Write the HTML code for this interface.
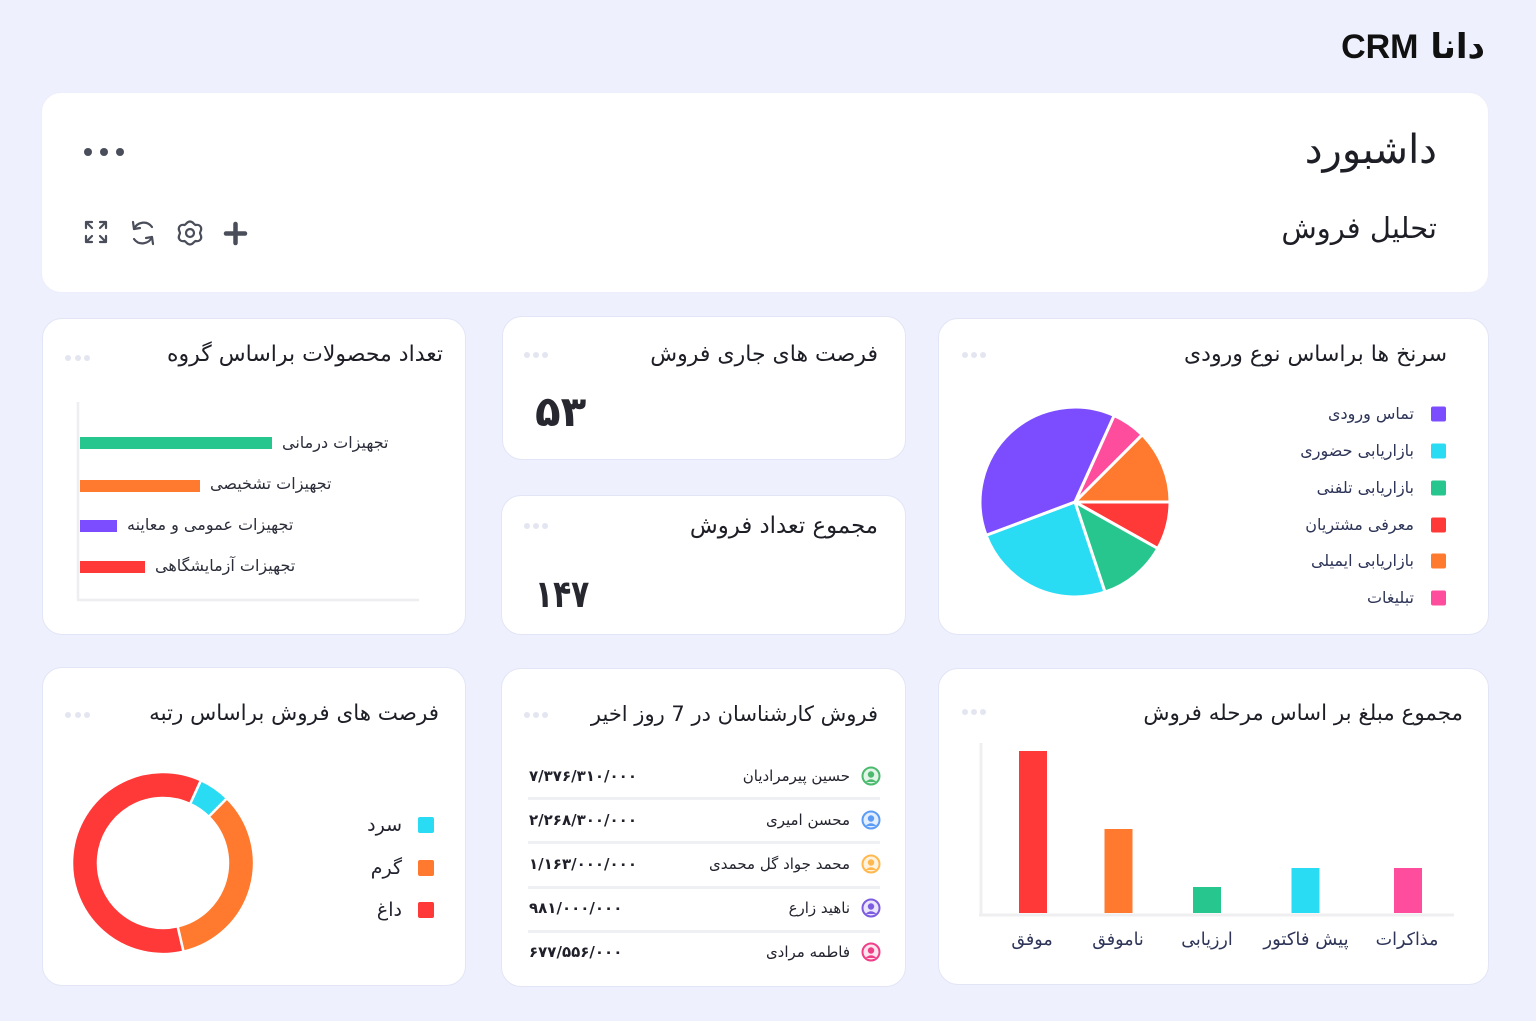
<!DOCTYPE html>
<html lang="fa">
<head>
<meta charset="utf-8">
<style>
html,body{margin:0;padding:0;}
body{width:1536px;height:1021px;background:#eef0fd;overflow:hidden;position:relative;font-family:"DejaVu Sans",sans-serif;}
.card{position:absolute;background:#fff;border:1.5px solid #e2e5f6;border-radius:20px;box-sizing:border-box;}
.t{position:absolute;white-space:nowrap;direction:rtl;font-family:"DejaVu Sans",sans-serif;color:#1d1e26;}
.ttl{font-size:22px;line-height:30px;height:30px;}
.lbl{font-size:16px;line-height:20px;height:20px;color:#2b2d3a;}
.lg{font-size:16px;line-height:22px;height:22px;color:#2e3558;}
.nm{font-size:15px;line-height:20px;height:20px;color:#22232e;}
.num{position:absolute;white-space:nowrap;direction:ltr;font-family:"DejaVu Sans",sans-serif;font-weight:bold;font-size:15px;line-height:20px;height:20px;color:#1f2029;letter-spacing:1.5px;}
.xl{position:absolute;width:160px;text-align:center;direction:rtl;white-space:nowrap;font-family:"DejaVu Sans",sans-serif;font-size:17.5px;line-height:22px;color:#2e3558;}
svg.ov{position:absolute;left:0;top:0;}
</style>
</head>
<body>

<!-- Logo -->
<div class="t" style="right:51px;top:27px;font-size:34px;line-height:40px;font-weight:bold;color:#111;"><span>دانا</span> <span style="font-family:'Liberation Sans',sans-serif;">CRM</span></div>

<!-- Header card -->
<div class="card" style="left:41px;top:92px;width:1448px;height:201px;border-color:#eceefb;"></div>
<div class="t" style="right:99px;top:128px;font-size:40px;line-height:44px;">داشبورد</div>
<div class="t" style="right:99px;top:210px;font-size:29px;line-height:36px;">تحلیل فروش</div>

<!-- Cards -->
<div class="card" style="left:42px;top:318px;width:424px;height:317px;"></div>
<div class="card" style="left:502px;top:316px;width:404px;height:144px;"></div>
<div class="card" style="left:501px;top:495px;width:405px;height:140px;"></div>
<div class="card" style="left:938px;top:318px;width:551px;height:317px;"></div>
<div class="card" style="left:42px;top:667px;width:424px;height:319px;"></div>
<div class="card" style="left:501px;top:668px;width:405px;height:319px;"></div>
<div class="card" style="left:938px;top:668px;width:551px;height:317px;"></div>

<!-- Titles -->
<div class="t ttl" style="right:1093px;top:340px;">تعداد محصولات براساس گروه</div>
<div class="t ttl" style="right:658px;top:340px;">فرصت های جاری فروش</div>
<div class="t ttl" style="right:658px;top:511px;font-size:22.8px;">مجموع تعداد فروش</div>
<div class="t ttl" style="right:89px;top:340px;">سرنخ ها براساس نوع ورودی</div>
<div class="t ttl" style="right:1097px;top:699px;font-size:21.4px;">فرصت های فروش براساس رتبه</div>
<div class="t ttl" style="right:658px;top:699px;font-size:21px;">فروش کارشناسان در 7 روز اخیر</div>
<div class="t ttl" style="right:73px;top:699px;font-size:21.4px;">مجموع مبلغ بر اساس مرحله فروش</div>

<!-- Big numbers -->
<div class="t" style="left:535px;top:390px;font-size:42px;line-height:44px;font-weight:bold;color:#26272f;letter-spacing:2px;">۵۳</div>
<div class="t" style="left:535px;top:572px;font-size:38px;line-height:44px;font-weight:bold;color:#26272f;letter-spacing:-3px;transform:scaleX(0.78);transform-origin:left center;">۱۴۷</div>

<!-- Card A bar labels -->
<div class="t lbl" style="left:282px;top:433px;">تجهیزات درمانی</div>
<div class="t lbl" style="left:210px;top:474px;">تجهیزات تشخیصی</div>
<div class="t lbl" style="left:127px;top:515px;">تجهیزات عمومی و معاینه</div>
<div class="t lbl" style="left:155px;top:556px;">تجهیزات آزمایشگاهی</div>

<!-- Card D legend -->
<div class="t lg" style="right:122px;top:403px;">تماس ورودی</div>
<div class="t lg" style="right:122px;top:440px;">بازاریابی حضوری</div>
<div class="t lg" style="right:122px;top:477px;">بازاریابی تلفنی</div>
<div class="t lg" style="right:122px;top:514px;">معرفی مشتریان</div>
<div class="t lg" style="right:122px;top:550px;">بازاریابی ایمیلی</div>
<div class="t lg" style="right:122px;top:587px;">تبلیغات</div>

<!-- Card E legend -->
<div class="t" style="right:1134px;top:812px;font-size:19px;line-height:26px;color:#22232e;">سرد</div>
<div class="t" style="right:1134px;top:855px;font-size:19px;line-height:26px;color:#22232e;">گرم</div>
<div class="t" style="right:1134px;top:897px;font-size:19px;line-height:26px;color:#22232e;">داغ</div>

<!-- Card F rows -->
<div class="t nm" style="right:686px;top:766px;">حسین پیرمرادیان</div>
<div class="t nm" style="right:686px;top:810px;">محسن امیری</div>
<div class="t nm" style="right:686px;top:854px;">محمد جواد گل محمدی</div>
<div class="t nm" style="right:686px;top:898px;">ناهید زارع</div>
<div class="t nm" style="right:686px;top:942px;">فاطمه مرادی</div>
<div class="num" style="left:529px;top:766px;">۷/۳۷۶/۳۱۰/۰۰۰</div>
<div class="num" style="left:529px;top:810px;">۲/۲۶۸/۳۰۰/۰۰۰</div>
<div class="num" style="left:529px;top:854px;">۱/۱۶۳/۰۰۰/۰۰۰</div>
<div class="num" style="left:529px;top:898px;">۹۸۱/۰۰۰/۰۰۰</div>
<div class="num" style="left:529px;top:942px;">۶۷۷/۵۵۶/۰۰۰</div>

<!-- Card G x labels -->
<div class="xl" style="left:952px;top:929px;">موفق</div>
<div class="xl" style="left:1038px;top:929px;">ناموفق</div>
<div class="xl" style="left:1127px;top:929px;">ارزیابی</div>
<div class="xl" style="left:1226px;top:929px;font-size:18px;">پیش فاکتور</div>
<div class="xl" style="left:1327px;top:929px;">مذاکرات</div>

<svg class="ov" width="1536" height="1021" viewBox="0 0 1536 1021" xmlns="http://www.w3.org/2000/svg">
  <!-- header dots -->
  <g fill="#4a4e5a">
    <circle cx="88" cy="152" r="4"/><circle cx="104" cy="152" r="4"/><circle cx="120" cy="152" r="4"/>
  </g>
  <!-- header icons -->
  <g stroke="#4a4e5a" stroke-width="2.2" fill="none" stroke-linecap="round" stroke-linejoin="round">
    <!-- expand -->
    <path d="M86 228 V222 H92 M86 222 L92 228"/>
    <path d="M100 222 H106 V228 M106 222 L100 228"/>
    <path d="M86 236 V242 H92 M86 242 L92 236"/>
    <path d="M106 236 V242 H100 M106 242 L100 236"/>
    <!-- refresh -->
    <path d="M134 229 C137 222 147 220 152 227"/>
    <path d="M133 222 L134 229 L140 228"/>
    <path d="M152 237 C149 244 139 246 134 239"/>
    <path d="M153 244 L152 237 L146 238"/>
    <!-- gear -->
    <path d="M190 221.5 C193 221.5 193.5 224 195.5 225 C197.5 224.5 200 225 201 227.5 C202 230 200 231.5 200 233 C200 234.5 202 236 201 238.5 C200 241 197.5 241.5 195.5 241 C193.5 242 193 244.5 190 244.5 C187 244.5 186.5 242 184.5 241 C182.5 241.5 180 241 179 238.5 C178 236 180 234.5 180 233 C180 231.5 178 230 179 227.5 C180 225 182.5 224.5 184.5 225 C186.5 224 187 221.5 190 221.5 Z"/>
    <circle cx="190" cy="233" r="4"/>
  </g>
  <!-- plus -->
  <g stroke="#4a4e5a" stroke-width="4.5" stroke-linecap="round">
    <line x1="235.5" y1="224" x2="235.5" y2="243"/>
    <line x1="226" y1="233.5" x2="245" y2="233.5"/>
  </g>

  <!-- card dots (light) -->
  <g fill="#e3e5f0">
    <circle cx="68" cy="358" r="3"/><circle cx="78" cy="358" r="3"/><circle cx="87" cy="358" r="3"/>
    <circle cx="527" cy="355" r="3"/><circle cx="536" cy="355" r="3"/><circle cx="545" cy="355" r="3"/>
    <circle cx="527" cy="526" r="3"/><circle cx="536" cy="526" r="3"/><circle cx="545" cy="526" r="3"/>
    <circle cx="965" cy="355" r="3"/><circle cx="974" cy="355" r="3"/><circle cx="983" cy="355" r="3"/>
    <circle cx="68" cy="715" r="3"/><circle cx="78" cy="715" r="3"/><circle cx="87" cy="715" r="3"/>
    <circle cx="527" cy="715" r="3"/><circle cx="536" cy="715" r="3"/><circle cx="545" cy="715" r="3"/>
    <circle cx="965" cy="712" r="3"/><circle cx="974" cy="712" r="3"/><circle cx="983" cy="712" r="3"/>
  </g>

  <!-- Card A horizontal bars -->
  <g stroke="#eeeef1" stroke-width="2.5">
    <line x1="78" y1="402" x2="78" y2="600"/>
    <line x1="77" y1="600" x2="419" y2="600"/>
  </g>
  <rect x="80" y="437" width="192" height="12" fill="#27c68f"/>
  <rect x="80" y="480" width="120" height="12" fill="#ff7a2e"/>
  <rect x="80" y="520" width="37" height="12" fill="#7c4dff"/>
  <rect x="80" y="561" width="65" height="12" fill="#ff3838"/>

  <!-- Card D pie -->
  <g stroke="#fff" stroke-width="3" stroke-linejoin="round">
    <path d="M1075 502 L986.1 535.4 A95 95 0 0 1 1114.2 415.5 Z" fill="#7c4dff"/>
    <path d="M1075 502 L1114.2 415.5 A95 95 0 0 1 1142.2 434.8 Z" fill="#ff4d9e"/>
    <path d="M1075 502 L1142.2 434.8 A95 95 0 0 1 1170 502 Z" fill="#ff7a2e"/>
    <path d="M1075 502 L1170 502 A95 95 0 0 1 1157.8 548.5 Z" fill="#ff3838"/>
    <path d="M1075 502 L1157.8 548.5 A95 95 0 0 1 1105 592.1 Z" fill="#27c68f"/>
    <path d="M1075 502 L1105 592.1 A95 95 0 0 1 986.1 535.4 Z" fill="#29dcf3"/>
  </g>
  <!-- Card D legend squares -->
  <rect x="1431" y="406.5" width="15" height="15" rx="2" fill="#7c4dff"/>
  <rect x="1431" y="443.5" width="15" height="15" rx="2" fill="#29dcf3"/>
  <rect x="1431" y="480.5" width="15" height="15" rx="2" fill="#27c68f"/>
  <rect x="1431" y="517.5" width="15" height="15" rx="2" fill="#ff3838"/>
  <rect x="1431" y="553.5" width="15" height="15" rx="2" fill="#ff7a2e"/>
  <rect x="1431" y="590.5" width="15" height="15" rx="2" fill="#ff4d9e"/>

  <!-- Card E donut -->
  <g stroke="#fff" stroke-width="2.5" stroke-linejoin="round">
    <path d="M200.9 780.3 A91 91 0 0 1 227 798.3 L208.7 816.8 A65 65 0 0 0 190.1 803.9 Z" fill="#29dcf3"/>
    <path d="M227 798.3 A91 91 0 0 1 183.5 951.7 L177.6 926.3 A65 65 0 0 0 208.7 816.8 Z" fill="#ff7a2e"/>
    <path d="M183.5 951.7 A91 91 0 1 1 200.9 780.3 L190.1 803.9 A65 65 0 1 0 177.6 926.3 Z" fill="#ff3838"/>
  </g>
  <rect x="418" y="817" width="16" height="16" rx="2" fill="#29dcf3"/>
  <rect x="418" y="860" width="16" height="16" rx="2" fill="#ff7a2e"/>
  <rect x="418" y="902" width="16" height="16" rx="2" fill="#ff3838"/>

  <!-- Card F dividers -->
  <g fill="#eff0f4">
    <rect x="528" y="797" width="352" height="3"/>
    <rect x="528" y="841" width="352" height="3"/>
    <rect x="528" y="886" width="352" height="3"/>
    <rect x="528" y="930" width="352" height="3"/>
  </g>
  <!-- avatars -->
  <g>
    <g transform="translate(871,776)">
      <circle r="8.5" fill="#e3f5e8" stroke="#4cba6e" stroke-width="2"/>
      <circle cy="-1.5" r="3.2" fill="#4cba6e"/>
      <path d="M-5.5 6 Q0 0.5 5.5 6 Z" fill="#4cba6e"/>
    </g>
    <g transform="translate(871,820)">
      <circle r="8.5" fill="#e3eefe" stroke="#5b9cf6" stroke-width="2"/>
      <circle cy="-1.5" r="3.2" fill="#5b9cf6"/>
      <path d="M-5.5 6 Q0 0.5 5.5 6 Z" fill="#5b9cf6"/>
    </g>
    <g transform="translate(871,864)">
      <circle r="8.5" fill="#fff3e0" stroke="#ffb84d" stroke-width="2"/>
      <circle cy="-1.5" r="3.2" fill="#ffb84d"/>
      <path d="M-5.5 6 Q0 0.5 5.5 6 Z" fill="#ffb84d"/>
    </g>
    <g transform="translate(871,908)">
      <circle r="8.5" fill="#ece6fb" stroke="#7c5ce0" stroke-width="2"/>
      <circle cy="-1.5" r="3.2" fill="#7c5ce0"/>
      <path d="M-5.5 6 Q0 0.5 5.5 6 Z" fill="#7c5ce0"/>
    </g>
    <g transform="translate(871,952)">
      <circle r="8.5" fill="#fde4ee" stroke="#ef3f87" stroke-width="2"/>
      <circle cy="-1.5" r="3.2" fill="#ef3f87"/>
      <path d="M-5.5 6 Q0 0.5 5.5 6 Z" fill="#ef3f87"/>
    </g>
  </g>

  <!-- Card G vertical bars -->
  <g stroke="#efeff2" stroke-width="3">
    <line x1="981" y1="743" x2="981" y2="915"/>
    <line x1="979" y1="915" x2="1454" y2="915"/>
  </g>
  <rect x="1019" y="751" width="28" height="162" fill="#ff3838"/>
  <rect x="1104.5" y="829" width="28" height="84" fill="#ff7a2e"/>
  <rect x="1193" y="887" width="28" height="26" fill="#27c68f"/>
  <rect x="1291.5" y="868" width="28" height="45" fill="#29dcf3"/>
  <rect x="1394" y="868" width="28" height="45" fill="#ff4d9e"/>
</svg>

</body>
</html>
